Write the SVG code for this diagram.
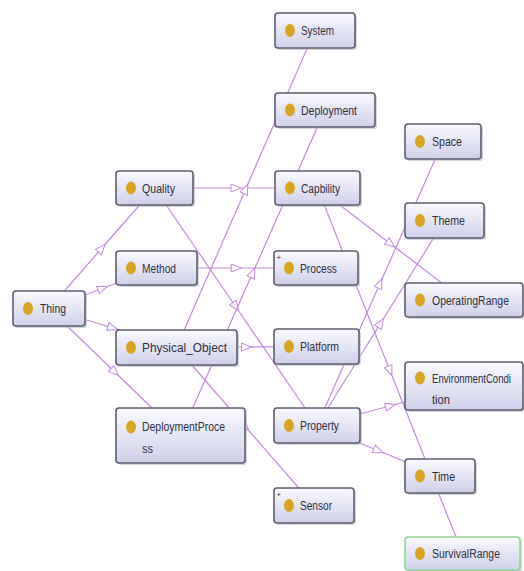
<svg xmlns="http://www.w3.org/2000/svg" width="524" height="571" viewBox="0 0 524 571">
<defs>
<linearGradient id="nf" x1="0" y1="0" x2="0" y2="1">
<stop offset="0" stop-color="#fafaff"/>
<stop offset="1" stop-color="#cfd0ea"/>
</linearGradient>
<marker id="ar" markerUnits="userSpaceOnUse" markerWidth="14" markerHeight="12" viewBox="-7 -6 14 12" refX="0" refY="0" orient="auto">
<path d="M-5,-4 L5,0 L-5,4 z" fill="#ffffff" stroke="#c48ae0" stroke-width="1"/>
</marker>
<style>
.e{fill:none;stroke:#c48ae0;stroke-width:1.2;marker-mid:url(#ar)}
.sh{fill:#b8b8c4;opacity:0.6}
.b{fill:url(#nf);stroke:#5e5e6e;stroke-width:1.6}
.g{fill:url(#nf);stroke:#8fd88f;stroke-width:1.6}
.d{fill:#d9a521}
.t{font-family:"Liberation Sans",Arial,sans-serif;font-size:12px;fill:#2e2e3e}
.p{font-family:"Liberation Sans",Arial,sans-serif;font-size:8px;fill:#2e2e3e}
</style>
</defs>
<rect width="524" height="571" fill="#ffffff"/>
<g id="connectors">
<polyline class="e" points="49,308.5 101.75,248.25 154.5,188"/>
<polyline class="e" points="49,308.5 102.75,288.25 156.5,268"/>
<polyline class="e" points="49,308.5 112.75,328 176.5,347.5"/>
<polyline class="e" points="49,308.5 114.75,372 180.5,435.5"/>
<polyline class="e" points="154.5,188 236,188 317.5,188"/>
<polyline class="e" points="154.5,188 235.75,306.75 317,425.5"/>
<polyline class="e" points="156.5,268 236.25,268 316,268"/>
<polyline class="e" points="176.5,347.5 245.75,189 315,30.5"/>
<polyline class="e" points="176.5,347.5 246.5,347 316.5,346.5"/>
<polyline class="e" points="176.5,347.5 245.25,426.5 314,505.5"/>
<polyline class="e" points="180.5,435.5 252.75,272.75 325,110"/>
<polyline class="e" points="317.5,188 390.75,244 464,300"/>
<polyline class="e" points="317.5,188 390,370.75 462.5,553.5"/>
<polyline class="e" points="317,425.5 380,283.5 443,141.5"/>
<polyline class="e" points="317,425.5 380.75,323 444.5,220.5"/>
<polyline class="e" points="317,425.5 390.5,405.75 464,386"/>
<polyline class="e" points="317,425.5 378.5,450.75 440,476"/>
</g>
<g id="node-System"><rect class="sh" x="277" y="15" width="80" height="35" rx="3"/><rect class="b" x="275" y="13" width="80" height="35" rx="3"/><ellipse class="d" cx="290" cy="30.5" rx="5" ry="6.5"/><text class="t" x="301" y="35" textLength="33" lengthAdjust="spacingAndGlyphs">System</text></g>
<g id="node-Deployment"><rect class="sh" x="277" y="95" width="100" height="34" rx="3"/><rect class="b" x="275" y="93" width="100" height="34" rx="3"/><ellipse class="d" cx="290" cy="110" rx="5" ry="6.5"/><text class="t" x="301" y="114.5" textLength="56" lengthAdjust="spacingAndGlyphs">Deployment</text></g>
<g id="node-Space"><rect class="sh" x="407" y="126" width="76" height="35" rx="3"/><rect class="b" x="405" y="124" width="76" height="35" rx="3"/><ellipse class="d" cx="420" cy="141.5" rx="5" ry="6.5"/><text class="t" x="432" y="146" textLength="30" lengthAdjust="spacingAndGlyphs">Space</text></g>
<g id="node-Quality"><rect class="sh" x="118" y="173" width="77" height="34" rx="3"/><rect class="b" x="116" y="171" width="77" height="34" rx="3"/><ellipse class="d" cx="131" cy="188" rx="5" ry="6.5"/><text class="t" x="142" y="192.5" textLength="33" lengthAdjust="spacingAndGlyphs">Quality</text></g>
<g id="node-Capbility"><rect class="sh" x="277" y="173" width="85" height="34" rx="3"/><rect class="b" x="275" y="171" width="85" height="34" rx="3"/><ellipse class="d" cx="290" cy="188" rx="5" ry="6.5"/><text class="t" x="301" y="192.5" textLength="39" lengthAdjust="spacingAndGlyphs">Capbility</text></g>
<g id="node-Theme"><rect class="sh" x="407" y="205" width="79" height="35" rx="3"/><rect class="b" x="405" y="203" width="79" height="35" rx="3"/><ellipse class="d" cx="420" cy="220.5" rx="5" ry="6.5"/><text class="t" x="432" y="225" textLength="33" lengthAdjust="spacingAndGlyphs">Theme</text></g>
<g id="node-Method"><rect class="sh" x="118" y="253" width="81" height="34" rx="3"/><rect class="b" x="116" y="251" width="81" height="34" rx="3"/><ellipse class="d" cx="131" cy="268" rx="5" ry="6.5"/><text class="t" x="142" y="272.5" textLength="34" lengthAdjust="spacingAndGlyphs">Method</text></g>
<g id="node-Process"><rect class="sh" x="276" y="253" width="84" height="34" rx="3"/><rect class="b" x="274" y="251" width="84" height="34" rx="3"/><text class="p" x="276.5" y="260">+</text><ellipse class="d" cx="289" cy="268" rx="5" ry="6.5"/><text class="t" x="300" y="272.5" textLength="37" lengthAdjust="spacingAndGlyphs">Process</text></g>
<g id="node-OperatingRange"><rect class="sh" x="407" y="285" width="118" height="34" rx="3"/><rect class="b" x="405" y="283" width="118" height="34" rx="3"/><ellipse class="d" cx="420" cy="300" rx="5" ry="6.5"/><text class="t" x="432" y="304.5" textLength="77" lengthAdjust="spacingAndGlyphs">OperatingRange</text></g>
<g id="node-Thing"><rect class="sh" x="15" y="293" width="72" height="35" rx="3"/><rect class="b" x="13" y="291" width="72" height="35" rx="3"/><ellipse class="d" cx="28" cy="308.5" rx="5" ry="6.5"/><text class="t" x="40" y="313" textLength="26" lengthAdjust="spacingAndGlyphs">Thing</text></g>
<g id="node-Physical_Object"><rect class="sh" x="118" y="332" width="121" height="35" rx="3"/><rect class="b" x="116" y="330" width="121" height="35" rx="3"/><ellipse class="d" cx="131" cy="347.5" rx="5" ry="6.5"/><text class="t" x="142" y="352" textLength="85" lengthAdjust="spacingAndGlyphs">Physical_Object</text></g>
<g id="node-Platform"><rect class="sh" x="276" y="331" width="85" height="35" rx="3"/><rect class="b" x="274" y="329" width="85" height="35" rx="3"/><ellipse class="d" cx="289" cy="346.5" rx="5" ry="6.5"/><text class="t" x="300" y="351" textLength="39" lengthAdjust="spacingAndGlyphs">Platform</text></g>
<g id="node-EnvironmentCondition"><rect class="sh" x="407" y="364" width="118" height="48" rx="3"/><rect class="b" x="405" y="362" width="118" height="48" rx="3"/><ellipse class="d" cx="420" cy="378" rx="5" ry="6.5"/><text class="t" x="432" y="383" textLength="79" lengthAdjust="spacingAndGlyphs">EnvironmentCondi</text><text class="t" x="432" y="404" textLength="18" lengthAdjust="spacingAndGlyphs">tion</text></g>
<g id="node-DeploymentProcess"><rect class="sh" x="118" y="410" width="129" height="55" rx="3"/><rect class="b" x="116" y="408" width="129" height="55" rx="3"/><ellipse class="d" cx="131" cy="427" rx="5" ry="6.5"/><text class="t" x="142" y="431" textLength="83" lengthAdjust="spacingAndGlyphs">DeploymentProce</text><text class="t" x="142" y="453" textLength="11" lengthAdjust="spacingAndGlyphs">ss</text></g>
<g id="node-Property"><rect class="sh" x="276" y="410" width="86" height="35" rx="3"/><rect class="b" x="274" y="408" width="86" height="35" rx="3"/><ellipse class="d" cx="289" cy="425.5" rx="5" ry="6.5"/><text class="t" x="300" y="430" textLength="39" lengthAdjust="spacingAndGlyphs">Property</text></g>
<g id="node-Time"><rect class="sh" x="407" y="461" width="70" height="34" rx="3"/><rect class="b" x="405" y="459" width="70" height="34" rx="3"/><ellipse class="d" cx="420" cy="476" rx="5" ry="6.5"/><text class="t" x="432" y="480.5" textLength="23" lengthAdjust="spacingAndGlyphs">Time</text></g>
<g id="node-Sensor"><rect class="sh" x="276" y="490" width="80" height="35" rx="3"/><rect class="b" x="274" y="488" width="80" height="35" rx="3"/><text class="p" x="276.5" y="497">+</text><ellipse class="d" cx="289" cy="505.5" rx="5" ry="6.5"/><text class="t" x="300" y="510" textLength="32" lengthAdjust="spacingAndGlyphs">Sensor</text></g>
<g id="node-SurvivalRange"><rect class="sh" x="407" y="539" width="115" height="33" rx="3"/><rect class="g" x="405" y="537" width="115" height="33" rx="3"/><ellipse class="d" cx="420" cy="553.5" rx="5" ry="6.5"/><text class="t" x="432" y="558" textLength="68" lengthAdjust="spacingAndGlyphs">SurvivalRange</text></g>
</svg>
